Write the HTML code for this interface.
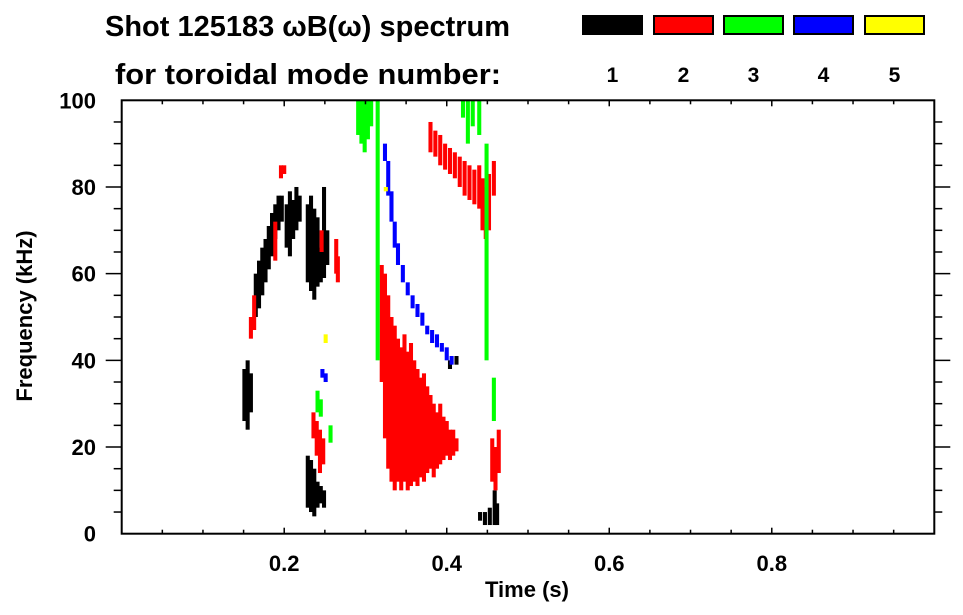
<!DOCTYPE html>
<html><head><meta charset="utf-8">
<style>
html,body{margin:0;padding:0;background:#fff;}
svg{display:block;font-family:"Liberation Sans",Arial,sans-serif;font-weight:bold;}
</style></head>
<body>
<svg id="chart" width="963" height="615" viewBox="0 0 963 615" xmlns="http://www.w3.org/2000/svg">
  <text x="105" y="36" font-size="29" textLength="405" lengthAdjust="spacingAndGlyphs">Shot 125183 ωB(ω) spectrum</text>
  <text x="115" y="84" font-size="29" textLength="386" lengthAdjust="spacingAndGlyphs">for toroidal mode number:</text>
  <g id="legend"></g>
  <g id="marks"></g>
  <g id="axes"></g>
  <text x="527" y="597" font-size="22" text-anchor="middle">Time (s)</text>
  <text transform="translate(32,316) rotate(-90)" font-size="22" text-anchor="middle">Frequency (kHz)</text>
</svg>
<script>
const modeLabels = ["1","2","3","4","5"];
const modeColors = ["#000000","#ff0000","#00ff00","#0000ff","#ffff00"];
const xTicks = [0.2,0.4,0.6,0.8];
const xTickLabels = ["0.2","0.4","0.6","0.8"];
const yTicks = [0,20,40,60,80,100];
const yTickLabels = ["0","20","40","60","80","100"];
// columns: [time(s), fLow(kHz), fHigh(kHz)]
const mode1 = [[.151,26,38],[.155,24,40],[.159,28,37],
 [.165,50,60],[.169,52,63],[.173,55,66],[.177,58,68],[.181,61,71],[.185,64,74],[.189,68,76],[.193,70,78],[.197,72,78],
 [.203,66,76],[.207,64,79],[.211,68,77],[.215,70,80],[.219,72,78],
 [.229,58,76],[.233,56,78],[.237,54,75],[.241,57,73],[.245,58,66],[.249,59,80],[.253,62,70],
 [.229,6,18],[.233,5,17],[.237,4,15],[.241,6,12],[.245,7,11],[.249,6,10],
 [.441,3,5],[.447,2,5],[.453,2,6],[.459,2,10],[.462,2,7],[.404,38,40],[.412,39,41]];
const mode2 = [[.159,45,50],[.163,47,55],[.196,82,85],[.200,83,85],[.189,63,72],[.246,65,70],[.264,60,68],[.266,58,64],
 [.236,22,28],[.240,18,26],[.244,14,24],[.248,16,22],
 [.320,35,62],[.324,22,60],[.328,15,55],[.332,12,50],[.336,10,48],[.340,12,45],[.344,10,43],[.348,12,46],[.352,10,42],[.356,11,44],[.360,12,40],[.364,11,38],[.368,13,36],[.372,12,37],[.376,14,34],[.380,15,32],[.384,13,30],[.388,15,28],[.392,16,30],[.396,17,27],[.400,18,26],[.404,17,24],[.408,18,24],[.412,19,22],
 [.380,88,95],[.386,87,93],[.392,85,92],[.398,84,90],[.404,83,89],[.410,82,88],[.416,80,87],[.422,78,86],[.428,77,85],[.434,76,84],[.440,75,85],[.444,70,82],[.448,68,80],[.452,70,83],[.458,78,86],
 [.456,12,22],[.460,10,20],[.464,14,24]];
const mode3 = [[.291,92,100],[.295,90,100],[.299,88,100],[.303,91,100],[.307,94,100],[.315,40,100],[.420,96,100],[.426,90,100],[.432,94,100],[.440,92,100],[.449,40,90],[.458,26,36],[.241,28,33],[.245,27,31],[.257,21,25]];
const mode4 = [[.324,86,90],[.328,78,86],[.332,72,79],[.336,66,72],[.340,62,67],[.346,58,62],[.352,55,58],[.358,52,55],[.364,50,53],[.370,48,51],[.376,46,48],[.382,44,47],[.388,43,46],[.394,42,44],[.400,40,43],[.406,39,41],[.247,36,38],[.251,35,37]];
const mode5 = [[.251,44,46],[.325,79,80]];
const series = [mode1,mode2,mode3,mode4,mode5];

const NS="http://www.w3.org/2000/svg";
const X0=121.7,X1=934.3,Y0=533.7,Y1=100.3;
const xs=t=>X0+(t-0)/(1-0)*(X1-X0);
const ys=f=>Y0-(f-0)/(100-0)*(Y0-Y1);
function mk(tag,attrs,parent){const e=document.createElementNS(NS,tag);for(const k in attrs)e.setAttribute(k,attrs[k]);parent.appendChild(e);return e;}

const lg=document.getElementById('legend');
const bx=[582,653,723,793,864];
modeLabels.forEach((m,i)=>{
  const r=mk('rect',{x:bx[i]+1,y:16,width:59,height:18,fill:modeColors[i],stroke:'#000','stroke-width':2},lg);
  
  
  const t=mk('text',{x:bx[i]+30.5,y:82,'font-size':21,'text-anchor':'middle'},lg);
  t.textContent=m;
  
  
});

const mg=document.getElementById('marks');
const dt=0.005;
series.forEach((s,i)=>{
  s.forEach(c=>{
    const x=xs(c[0]-dt/2), w=xs(c[0]+dt/2)-x;
    const r=mk('rect',{x:x,y:ys(c[2]),width:w,height:Math.max(1,ys(c[1])-ys(c[2])),fill:modeColors[i]},mg);
    
    
  });
});

const ax=document.getElementById('axes');
const fr=mk('rect',{x:X0,y:Y1,width:X1-X0,height:Y0-Y1,fill:'none',stroke:'#000','stroke-width':2},ax);


for(let k=1;k<20;k++){
  const t=k*0.05, x=xs(t), L=(k%4===0)?6:4;
  mk('line',{x1:x,x2:x,y1:Y0,y2:Y0-L,stroke:'#000','stroke-width':1.5},ax);
  mk('line',{x1:x,x2:x,y1:Y1,y2:Y1+L,stroke:'#000','stroke-width':1.5},ax);
}
for(let k=1;k<20;k++){
  const f=k*5, y=ys(f), L=(k%4===0)?16:8;
  mk('line',{x1:X0,x2:X0-L,y1:y,y2:y,stroke:'#000','stroke-width':1.5},ax);
  mk('line',{x1:X1,x2:X1+L,y1:y,y2:y,stroke:'#000','stroke-width':1.5},ax);
}
xTicks.forEach((v,i)=>{
  const t=mk('text',{x:xs(v),y:571,'font-size':22,'text-anchor':'middle'},ax);
  t.textContent=xTickLabels[i];
  
  
});
yTicks.forEach((v,i)=>{
  const t=mk('text',{x:96,y:ys(v)+8,'font-size':22,'text-anchor':'end'},ax);
  t.textContent=yTickLabels[i];
  
  
});
</script>
</body></html>
